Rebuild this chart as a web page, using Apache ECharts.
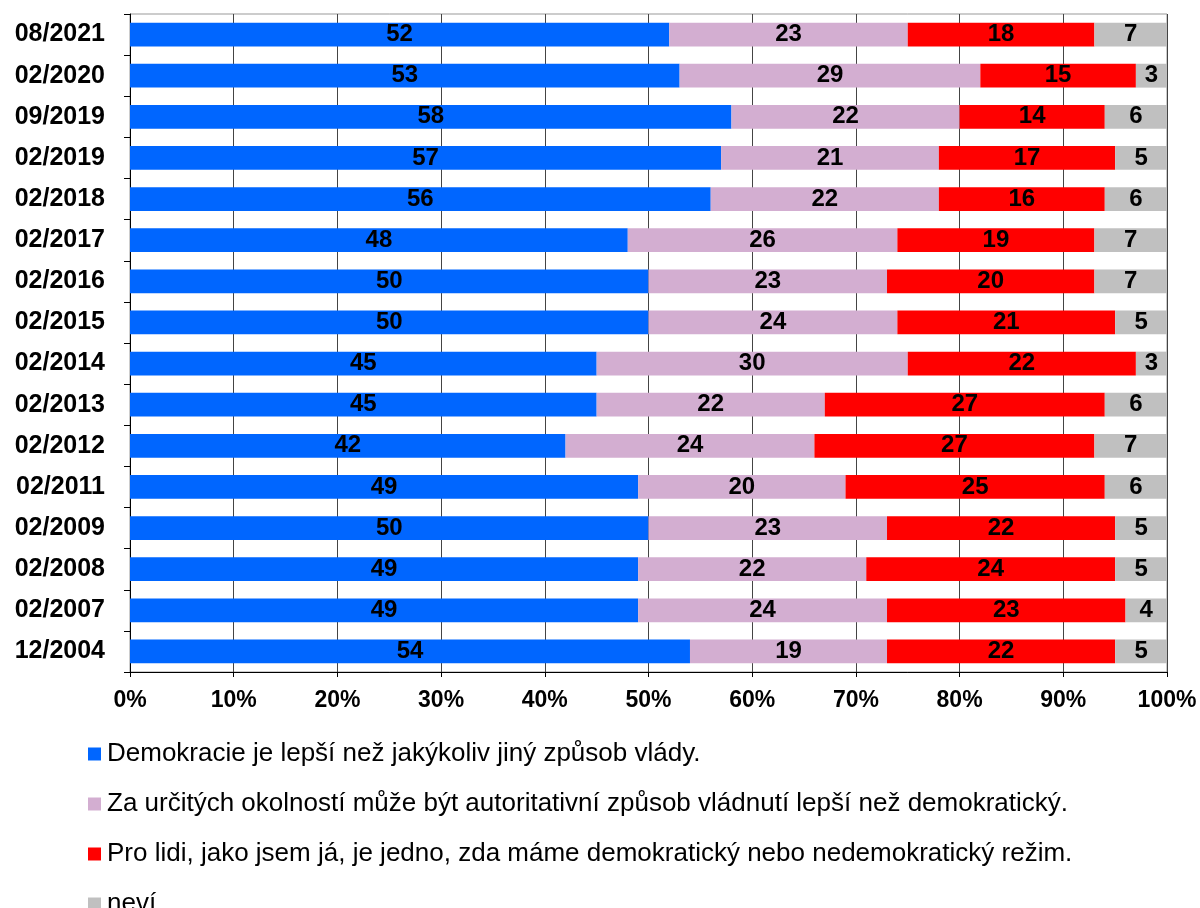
<!DOCTYPE html>
<html>
<head>
<meta charset="utf-8">
<script src="https://cdn.jsdelivr.net/npm/echarts@6/dist/echarts.min.js"></script>
<style>
  html, body { margin: 0; padding: 0; background: #fff; }
  #chart { width: 1200px; height: 908px; }
</style>
</head>
<body>
<div id="chart"></div>
<script>
const categories = ["08/2021", "02/2020", "09/2019", "02/2019", "02/2018", "02/2017", "02/2016", "02/2015",
  "02/2014", "02/2013", "02/2012", "02/2011", "02/2009", "02/2008", "02/2007", "12/2004"];
const seriesNames = [
  "Demokracie je lepší než jakýkoliv jiný způsob vlády.",
  "Za určitých okolností může být autoritativní způsob vládnutí lepší než demokratický.",
  "Pro lidi, jako jsem já, je jedno, zda máme demokratický nebo nedemokratický režim.",
  "neví"
];
const demokracie = [52, 53, 58, 57, 56, 48, 50, 50, 45, 45, 42, 49, 50, 49, 49, 54];
const autoritativni = [23, 29, 22, 21, 22, 26, 23, 24, 30, 22, 24, 20, 23, 22, 24, 19];
const jedno = [18, 15, 14, 17, 16, 19, 20, 21, 22, 27, 27, 25, 22, 24, 23, 22];
const nevi = [7, 3, 6, 5, 6, 7, 7, 5, 3, 6, 7, 6, 5, 5, 4, 5];
const colors = ["#0066ff", "#d3aed1", "#ff0000", "#c0c0c0"];

var myChart = echarts.init(document.getElementById("chart"));
const font = "Liberation Sans, Arial, sans-serif";
function makeSeries(name, data, color) {
  return {
    name: name,
    type: "bar",
    stack: "total",
    barWidth: "58%",
    data: data,
    itemStyle: { color: color },
    label: {
      show: true,
      position: "inside",
      color: "#000",
      fontFamily: font,
      fontWeight: "bold",
      fontSize: 24
    }
  };
}
// one legend per row so they stack at a fixed 50px pitch
let legends = seriesNames.map((n, i) => ({
  orient: "vertical",
  left: 83,
  top: 736 + 50 * i,
  itemWidth: 13,
  itemHeight: 13,
  icon: "rect",
  textStyle: { fontSize: 26, color: "#000", fontFamily: font, padding: [0, 0, 0, 1] },
  data: [n]
}));
let option = {
  animation: false,
  textStyle: { fontFamily: font },
  grid: {
    left: 130,
    right: 33,
    top: 14,
    height: 658,
    show: true,
    borderColor: "#999",
    borderWidth: 1
  },
  legend: legends,
  xAxis: {
    type: "value",
    min: 0,
    max: 100,
    interval: 10,
    axisLine: { show: true, lineStyle: { color: "#000" } },
    axisTick: { show: true, length: 5, lineStyle: { color: "#000" } },
    splitLine: { show: true, lineStyle: { color: "#444" } },
    axisLabel: {
      formatter: "{value}%",
      color: "#000",
      fontFamily: font,
      fontWeight: "bold",
      fontSize: 23,
      margin: 17
    }
  },
  yAxis: {
    type: "category",
    inverse: true,
    data: categories,
    axisLine: { show: true, lineStyle: { color: "#000" } },
    axisTick: { show: true, length: 6, lineStyle: { color: "#000" } },
    axisLabel: {
      color: "#000",
      fontFamily: font,
      fontWeight: "bold",
      fontSize: 25,
      margin: 25
    }
  },
  series: [
    makeSeries(seriesNames[0], demokracie, colors[0]),
    makeSeries(seriesNames[1], autoritativni, colors[1]),
    makeSeries(seriesNames[2], jedno, colors[2]),
    makeSeries(seriesNames[3], nevi, colors[3])
  ]
};
myChart.setOption(option);
</script>
</body>
</html>
